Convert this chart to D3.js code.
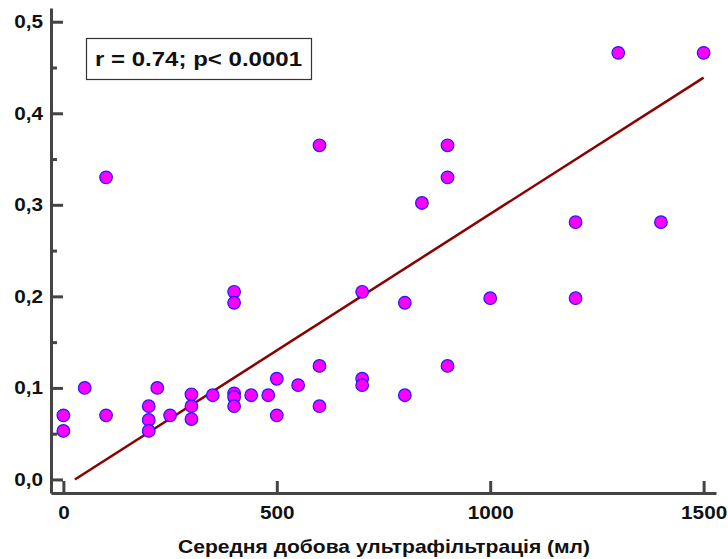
<!DOCTYPE html>
<html>
<head>
<meta charset="utf-8">
<script src="https://cdn.jsdelivr.net/npm/d3@7"></script>
<style>
  body { margin: 0; background: #fff; }
  text { font-family: Arial, "Liberation Sans", sans-serif; font-weight: bold; fill: #111; }
</style>
</head>
<body>
<svg class="chart" width="728" height="559"></svg>
<script>
// Scatter: daily ultrafiltration (ml) vs value
var xValues = [0, 0, 50, 100, 100, 200, 200, 200, 220, 250, 300, 300, 300, 350,
  400, 400, 400, 400, 400, 440, 480, 500, 500, 550, 600, 600, 600, 700, 700, 700,
  800, 800, 840, 900, 900, 900, 1000, 1200, 1200, 1300, 1400, 1500];
var yValues = [0.070, 0.053, 0.100, 0.330, 0.070, 0.080, 0.065, 0.053, 0.100, 0.070, 0.093, 0.080, 0.066, 0.092,
  0.205, 0.193, 0.094, 0.090, 0.080, 0.092, 0.092, 0.110, 0.070, 0.103, 0.365, 0.124, 0.080, 0.205, 0.110, 0.103,
  0.193, 0.092, 0.302, 0.365, 0.330, 0.124, 0.198, 0.281, 0.198, 0.466, 0.281, 0.466];

// regression line end points
var lineX = [27, 1500];
var lineY = [0.0, 0.439];

var xTicks = [0, 500, 1000, 1500];
var yTicks = [0, 0.1, 0.2, 0.3, 0.4, 0.5];
var yMinorTicks = [0.05, 0.15, 0.25, 0.35, 0.45];

var statText = "r = 0.74; p< 0.0001";
var xTitle = "Середня добова ультрафільтрація (мл)";

var data = xValues.map(function (d, i) { return { x: d, y: yValues[i] }; });

var x = d3.scaleLinear().domain([-29, 1529]).range([51, 716]);
var y = d3.scaleLinear().domain([-0.0148, 0.515]).range([493, 8]);

var canvas = d3.select(".chart");
var axisColor = "#444";

// x axis (ticks pointing inward)
var xAxisGroup = canvas.append("g")
    .attr("transform", "translate(0,493)")
    .call(d3.axisBottom(x).tickValues(xTicks).tickSize(-12).tickSizeOuter(0).tickPadding(10)
      .tickFormat(d3.format("d")));

// y axis
var yAxisGroup = canvas.append("g")
    .attr("transform", "translate(51,0)")
    .call(d3.axisLeft(y).tickValues(yTicks).tickSize(-12).tickSizeOuter(0).tickPadding(8)
      .tickFormat(function (d) { return d3.format(".1f")(d).replace(".", ","); }));

canvas.append("g")
    .attr("transform", "translate(51,0)")
    .call(d3.axisLeft(y).tickValues(yMinorTicks).tickSize(-6).tickSizeOuter(0).tickFormat(""))
    .select(".domain").remove();

canvas.selectAll(".domain")
    .attr("stroke", axisColor)
    .attr("stroke-width", 3);
canvas.selectAll(".tick line")
    .attr("stroke", axisColor)
    .attr("stroke-width", 3);
canvas.selectAll(".tick text")
    .style("font-size", "18px")
    .attr("fill", "#111")
    .attr("lengthAdjust", "spacingAndGlyphs")
    .attr("textLength", function () { return this.getComputedTextLength() * 1.15; });
xAxisGroup.selectAll(".tick text").attr("dy", "0.9em");

// regression line
canvas.append("line")
    .attr("x1", x(lineX[0])).attr("y1", y(lineY[0]))
    .attr("x2", x(lineX[1])).attr("y2", y(lineY[1]))
    .attr("stroke", "#8b0000")
    .attr("stroke-width", 2.5);

// points
canvas.selectAll("circle")
    .data(data)
    .enter().append("circle")
    .attr("cx", function (d) { return x(d.x); })
    .attr("cy", function (d) { return y(d.y); })
    .attr("r", 6.3)
    .attr("fill", "#ff00ff")
    .attr("stroke", "#1a1aff")
    .attr("stroke-width", 1.2);

// stats box
canvas.append("rect")
    .attr("x", 86.5).attr("y", 38.5)
    .attr("width", 225).attr("height", 41)
    .attr("fill", "#fff")
    .attr("stroke", "#333")
    .attr("stroke-width", 1.2);

canvas.append("text")
    .attr("x", 95)
    .attr("y", 66)
    .style("font-size", "19.5px")
    .attr("lengthAdjust", "spacingAndGlyphs")
    .attr("textLength", 207)
    .text(statText);

// x axis title
canvas.append("text")
    .attr("x", 178)
    .attr("y", 553)
    .style("font-size", "19px")
    .attr("lengthAdjust", "spacingAndGlyphs")
    .attr("textLength", 412)
    .text(xTitle);
</script>
</body>
</html>
